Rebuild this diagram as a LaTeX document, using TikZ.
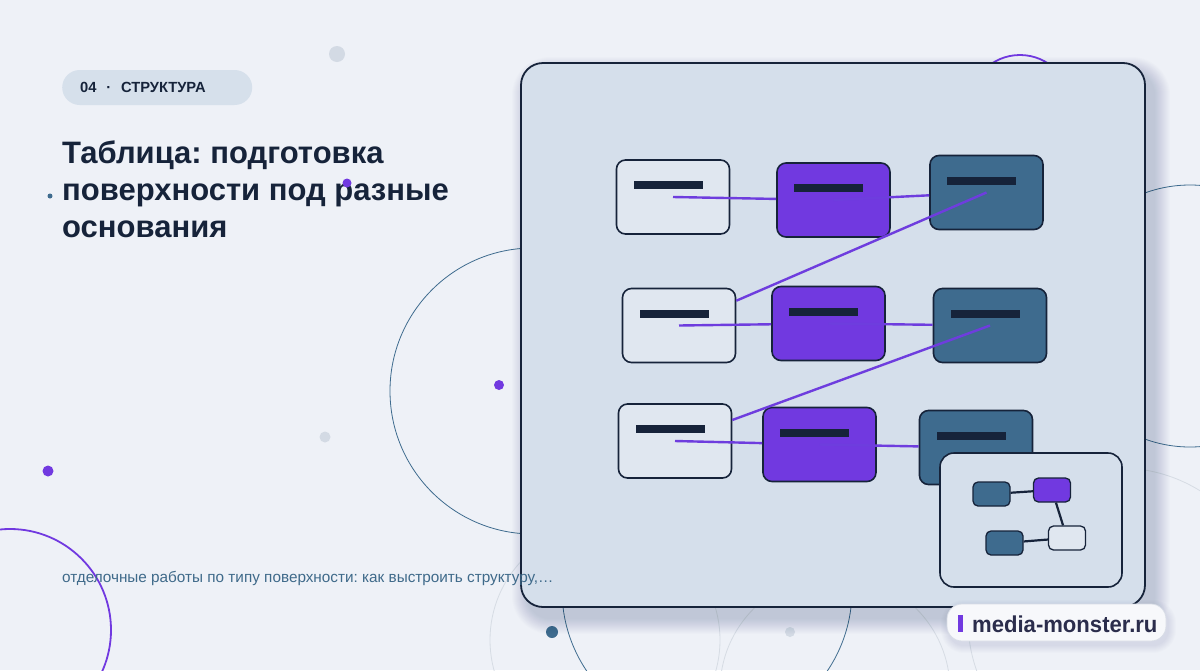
\documentclass[tikz,border=0pt]{standalone}
\usepackage{fontspec}
\setmainfont{Liberation Sans}
\usetikzlibrary{calc}
\frenchspacing
\definecolor{bg}{HTML}{EEF1F7}
\definecolor{ink}{HTML}{16233A}
\definecolor{panelfill}{HTML}{D5DFEB}
\definecolor{lightfill}{HTML}{E0E7F0}
\definecolor{purp}{HTML}{7139E0}
\definecolor{purpline}{HTML}{6E3DDE}
\definecolor{tealc}{HTML}{3E6B8E}
\definecolor{greyc}{HTML}{D3DAE4}
\definecolor{greyline}{HTML}{D6DCE4}
\definecolor{subc}{HTML}{3F6A8A}
\definecolor{pillfill}{HTML}{D6E0EB}
\definecolor{badgefill}{HTML}{F7F8FB}
\definecolor{badgeline}{HTML}{D9DEE7}
\definecolor{badgeink}{HTML}{2B2D4C}
\definecolor{shadowc}{HTML}{1A2A50}
\begin{document}
\begin{tikzpicture}[x=1pt,y=-1pt,
  box/.style={draw=ink, line width=1.6pt, rounded corners=9pt, minimum width=113pt, minimum height=74pt, inner sep=0pt},
  lightbox/.style={box, fill=lightfill},
  purplebox/.style={box, fill=purp},
  tealbox/.style={box, fill=tealc},
  minibox/.style={draw=ink, line width=1.3pt, rounded corners=5pt, minimum width=37pt, minimum height=24pt, inner sep=0pt},
  link/.style={draw=purpline, line width=2.4pt},
  minilink/.style={draw=ink, line width=2.2pt},
  bar/.style={fill=ink},
  ring/.style={draw=tealc, line width=0.8pt},
  faintring/.style={draw=greyline, line width=0.8pt},
  purpring/.style={draw=purp, line width=1.8pt},
]
\useasboundingbox (0,0) rectangle (1200,670);
\fill[bg] (0,0) rectangle (1200,670);

% background rings
\draw[faintring] (605,640) circle (115);
\draw[faintring] (835,690) circle (115);
\draw[faintring] (1120,620) circle (152);
\draw[ring] (533,391) circle (143);
\draw[ring] (1190,316) circle (131);
\draw[ring] (707,590) circle (145);
\draw[purpring] (1020,106) circle (51);
\draw[purpring] (10,630) circle (101);

% dots
\fill[greyc] (337,54) circle (8);
\fill[tealc] (50,196) circle (2.5);
\fill[purp] (499,385) circle (5);
\fill[greyc] (325,437) circle (5.5);
\fill[purp] (48,471) circle (5.5);
\fill[tealc] (552,632) circle (6);
\fill[greyc] (790,632) circle (5);

% pill
\node[fill=pillfill, rounded corners=17.5pt, anchor=west, minimum height=35pt, text width=154pt, inner xsep=18pt, inner ysep=0pt, align=left,
      font=\fontsize{14.7}{16}\selectfont\bfseries, text=ink] (pill) at (62,87.5) {04~~·~~СТРУКТУРА};

% title
\node[anchor=base west, inner sep=0pt, font=\fontsize{31}{37}\selectfont\bfseries, text=ink] (title1) at (62,163) {Таблица: подготовка};
\node[anchor=base west, inner sep=0pt, font=\fontsize{31}{37}\selectfont\bfseries, text=ink] (title2) at (62,200) {поверхности под разные};
\node[anchor=base west, inner sep=0pt, font=\fontsize{31}{37}\selectfont\bfseries, text=ink] (title3) at (62,237) {основания};
\fill[purp] (347,183) circle (4.5);

% panel shadow
\foreach \i in {1,...,16}{
  \fill[shadowc, opacity=0.012, rounded corners={(22+\i)*1pt}] (528-\i,73-\i) rectangle (1154+\i,618+\i);
}
% panel
\draw[fill=panelfill, draw=ink, line width=1.8pt, rounded corners=22pt] (521,63) rectangle (1145,607);

% subtitle (over the panel edge, as in the reference)
\node[anchor=base west, inner sep=0pt, font=\fontsize{15.3}{18}\selectfont, text=subc] (subtitle) at (62,582) {отделочные работы по типу поверхности: как выстроить структуру,…};

% diagram nodes
\node[lightbox]  (A1) at (673,197) {};
\node[purplebox] (B1) at (833.5,200) {};
\node[tealbox]   (C1) at (986.5,192.5) {};
\node[lightbox]  (A2) at (679,325.5) {};
\node[purplebox] (B2) at (828.5,323.5) {};
\node[tealbox]   (C2) at (990,325.5) {};
\node[lightbox]  (A3) at (675,441) {};
\node[purplebox] (B3) at (819.5,444.5) {};
\node[tealbox]   (C3) at (976,447.5) {};
\foreach \n in {A1,B1,C1,A2,B2,C2,A3,B3,C3}{
  \fill[bar] ([shift={(-39.5,-16)}]\n.center) rectangle ++(69,8);
}

% connectors
\draw[link] (A1.center) -- (B1);
\draw[link] (B1.center) -- (C1);
\draw[link] (C1.center) -- (A2);
\draw[link] (A2.center) -- (B2);
\draw[link] (B2.center) -- (C2);
\draw[link] (C2.center) -- (A3);
\draw[link] (A3.center) -- (B3);
\draw[link] (B3.center) -- (C3);

% mini map inset
\node[draw=ink, fill=panelfill, line width=1.6pt, rounded corners=14pt, minimum width=182pt, minimum height=134pt, inner sep=0pt] (inset) at (1031,520) {};
\node[minibox, fill=tealc]     (m1) at (991.5,494) {};
\node[minibox, fill=purp]      (m2) at (1052,490) {};
\node[minibox, fill=lightfill] (m3) at (1067,538) {};
\node[minibox, fill=tealc]     (m4) at (1004.5,543) {};
\draw[minilink] (m1) -- (m2);
\draw[minilink] (m2) -- (m3);
\draw[minilink] (m4) -- (m3);

% badge
\foreach \i in {1,...,8}{
  \fill[shadowc, opacity=0.012, rounded corners={(15+\i)*1pt}] (949-\i,608-\i) rectangle (1168+\i,645+\i);
}
\node[fill=badgefill, draw=badgeline, line width=0.8pt, rounded corners=15pt, minimum width=219pt, minimum height=37pt, inner sep=0pt] (badge) at (1056.5,622.5) {};
\fill[purp] (958,615) rectangle (963,632);
\node[anchor=base west, inner sep=0pt, font=\fontsize{23}{26}\selectfont\bfseries, text=badgeink, xscale=0.96, transform shape] (badgetext) at (972,632) {media-monster.ru};
\end{tikzpicture}
\end{document}
